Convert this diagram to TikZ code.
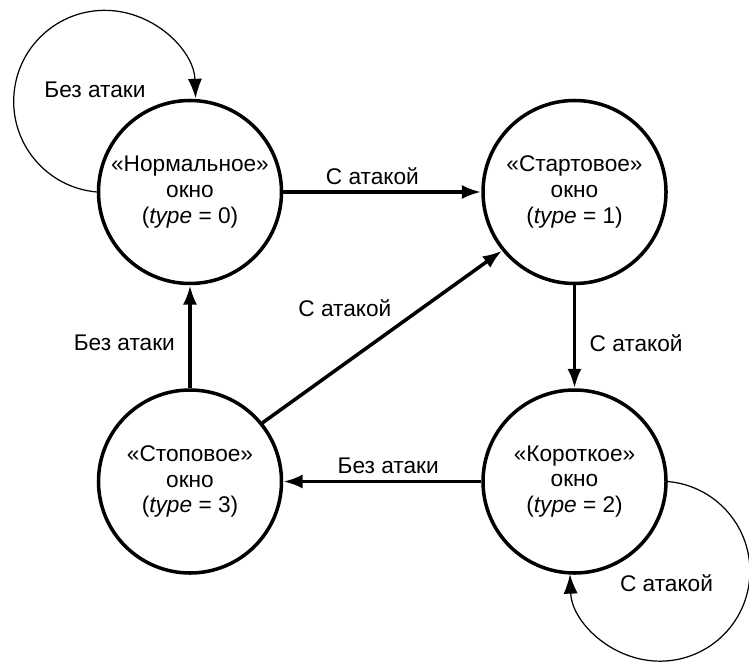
\documentclass[tikz,border=0pt]{standalone}
\usepackage{fontspec}
\setmainfont{Liberation Sans}
\usetikzlibrary{arrows.meta,positioning}

\begin{document}
\begin{tikzpicture}[node distance=2.06cm and 3.96cm,
  every node/.style={font=\fontsize{12.9}{14.7}\selectfont},
  >={Latex[length=11pt,width=8pt]}
]

\useasboundingbox (0,0) rectangle (14.98,13.28);

\tikzset{window/.style={draw,circle,line width=2pt,minimum size=3.66cm,inner sep=0pt,align=center}}
\tikzset{loop line/.style={->,line width=0.7pt}}

\node[window] at (3.8,9.44) (w0) {«Нормальное»\\окно\\(\textit{type} = 0)};
\node[window, right=of w0]  (w1) {«Стартовое»\\окно\\(\textit{type} = 1)};
\node[window, below=of w0]  (w3) {«Стоповое»\\окно\\(\textit{type} = 3)};
\node[window, right=of w3]  (w2) {«Короткое»\\окно\\(\textit{type} = 2)};

\path[->,line width=2pt]
  (w0) edge node[above,pos=0.45] {С атакой} (w1)
  (w1) edge node[right=0.15cm,pos=0.56] {С атакой} (w2)
  (w2) edge node[above,pos=0.47] {Без атаки} (w3)
  (w3) edge node[left=0.15cm,pos=0.44] {Без атаки} (w0)
  (w3.39) edge node[above left,pos=0.57] {С атакой} (w1.219);

% self loops
\draw[loop line] (w0.west) arc[start angle=265,end angle=2,radius=1.82cm];
\draw[loop line] (w2.east) arc[start angle=85,end angle=-178,radius=1.80cm];
\node[xshift=-1.9cm,yshift=2.04cm]  (l0) at (w0) {Без атаки};
\node[xshift=1.84cm,yshift=-2.04cm] (l2) at (w2) {С атакой};

\end{tikzpicture}
\end{document}
